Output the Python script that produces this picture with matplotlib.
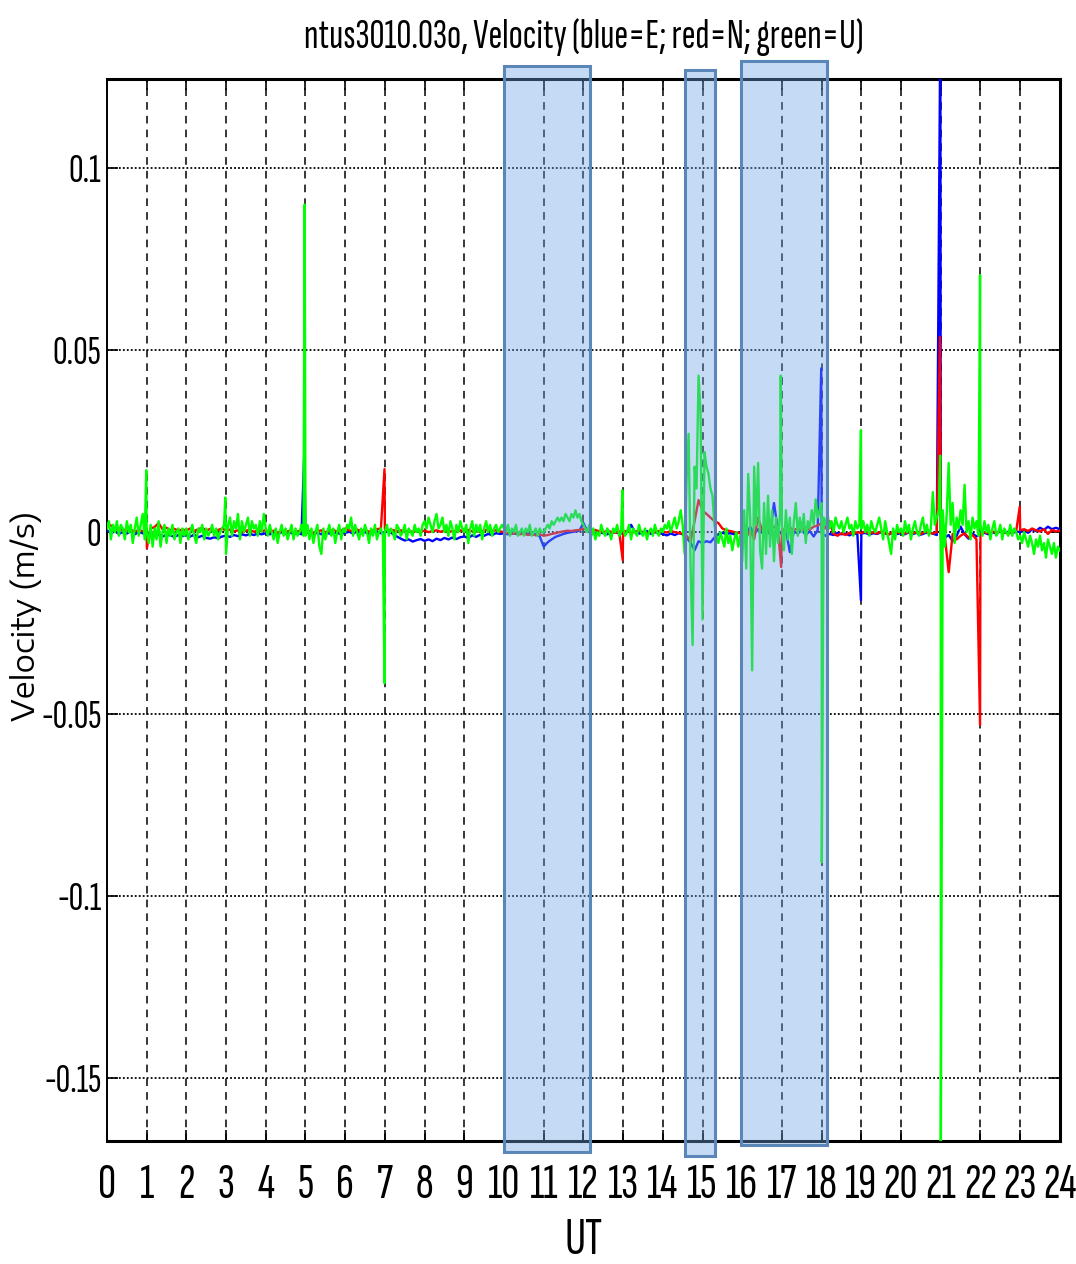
import numpy as np
import matplotlib
matplotlib.use("Agg")
from matplotlib import pyplot as plt
from matplotlib.patches import Rectangle

# velocities in mm/s, blue/red every 0.1 h, green every 0.05 h
east_mm = [
    0.5, -0.3, 0.2, -0.5, 0, -0.4, 0.3, -0.6, 0, -0.3,
    -0.8, -0.4, -1, -0.6, -1.2, -0.7, -0.9, -1.3, -0.8, -1.1,
    -0.9, -1.2, -0.7, -1.4, -1, -1.6, -1.8, -1.4, -1.7, -1.2,
    -1, -1.3, -0.8, -1.1, -0.6, -0.9, -0.5, -0.8, -0.4, -0.6,
    -0.3, -0.6, -0.2, -0.5, 0, -0.4, -0.1, -0.5, -0.2, -0.6,
    -0.3, 0, -0.5, -0.2, -0.6, -0.1, -0.4, 0, -0.3, -0.5,
    -0.2, 0.1, -0.4, 0.2, -0.3, 0, -0.5, -0.1, 0.2, -0.3,
    0, 0.3, -0.5, -1.2, -1.8, -2.3, -2.0, -2.6, -2.2, -1.9,
    -2.4, -2.0, -2.5, -1.8, -2.2, -1.6, -2.0, -1.5, -1.9, -1.4,
    -1.2, -1.6, -0.9, -1.3, -0.7, -1.0, -0.5, -0.8, -0.3, -0.5,
    -0.3, -0.6, -0.2, -0.5, 0, -0.4, -0.3, -0.8, -0.5, -1.2,
    -4, -2.8, -2, -1.3, -0.9, -0.5, -0.2, 0, 0.2, 0.4,
    2.5, 0.3, -0.2, -0.5, 0, -0.3, -0.6, -0.2, 0, -0.4,
    -0.3, 0.2, 2.0, 0, -0.4, -0.2, 0.3, -0.5, 0, -0.3,
    -0.5, -0.9, -0.4, -0.8, -0.3, -0.6, -1.5, -3, -5, -2.5,
    -3, -2.5, -2.8, -1.5, -0.6, -0.2, -0.5, -0.3, -0.6, -0.2,
    0, -1, 1.5, -0.5, 0.8, -0.2, 1, -0.6, 8, 0.5,
    -0.5, 0.4, -5.5, 0.2, -0.4, 0.6, -0.8, 0.3, -1.2, 0.5,
    -0.3, -1, -0.5, -0.8, -0.2, -0.6, -0.4, -0.9, -0.3, -0.6,
    -0.4, -0.2, -0.7, -0.3, -0.5, 0, -0.4, -0.6, -0.2, -0.5,
    -0.3, -0.6, 0, -0.5, -0.2, -0.7, -0.3, 0, -0.4, -0.8,
    -0.5, -1.5, -0.8, -2.5, -1, 1.5, -0.6, -1.8, -0.4, -1.2,
    -0.5, -0.2, -0.6, 0, -0.4, 0.3, -0.2, 0.1, -0.3, 0.2,
    0, 0.5, -0.2, 0.8, 0.3, 1.2, 0.6, 1.5, 0.8, 1.2,
    0.8,
]
east_spike_t = [4.97, 17.99, 18.99, 20.99]
east_spike_mm = [22, 45, -18.7, 140]

north_mm = [
    2.5, 1.8, 1, 0.5, 0.8, 0.3, 0.6, 0.2, 0.5, 0.3,
    0.6, 1, 1.4, 2.5, 0.8, 1.2, 0.5, 0.9, 0.4, 0.7,
    0.5, 1, 0.3, 0.8, 1.2, 0.4, 0.9, 0.2, 0.6, 1,
    0.4, 0.7, 0.2, 0.5, 0, 0.4, 0.6, 0.1, 0.5, 0.3,
    0.5, 0.1, 0.4, -0.2, 0.3, 0, 0.4, -0.1, 0.2, 0.5,
    0, 0.3, -0.3, 0.2, 0.5, 0, 0.3, 0.6, 0.1, 0.4,
    1, 0.5, 0.2, 0.7, 0.3, 0.6, 0.1, 0.5, 0.8, 1,
    0.8, 0.4, 0.6, 0.2, 0.5, 0.1, 0.4, 0, 0.3, 0.2,
    0.4, 0, 0.3, 0.5, 0.1, 0.4, 0, 0.3, 0.2, 0.5,
    0.3, 0.6, 0.2, 0.5, 0.1, 0.4, 0.8, 0.3, 0.5, 0.2,
    0, -0.3, -0.5, -0.2, -0.6, -0.4, -0.8, -0.5, -0.9, -0.6,
    -1, -0.8, -0.5, -0.3, 0, 0.2, 0.4, 0.3, 0.5, 0.6,
    1, 0.5, 0.3, 0.6, 0.2, 0, 0.3, 0.1, -0.2, 0.2,
    0, 0.3, -0.2, 0.1, 0.4, 0, -0.3, 0.2, 0, 0.3,
    0.2, -0.1, 0.3, 0, -0.2, -0.5, -1, -2.5, 3, 8.8,
    6, 5, 4, 3, 2.5, 1, 0.5, 0.3, 0, -0.2,
    -0.5, -1.5, 0.5, -2, 4, 0.5, 1, 0.3, 1.5, 0.8,
    0.8, 0.5, 1.2, 0.6, 1, 0.4, 1.3, 0.7, 1.5, 1.8,
    2.5, 1, 3, -0.5, -1, -0.3, -0.8, -0.2, -0.6, 0,
    -0.3, 0.2, -0.5, 0, -0.4, 0.2, -0.3, -0.6, 0, -0.2,
    0, -0.4, 0.2, -0.3, 0, -0.5, 0.1, -0.2, -0.4, 0,
    -2, -1, -11, -0.5, -2, -1, -0.3, -1.5, -0.8, -2,
    -0.5, 0, -0.3, 0.2, -0.2, 0.3, 0, -0.4, 0.1, 0.3,
    0.5, 0.8, 0.3, 1, 0.5, 0.2, 0.8, -0.5, 0.6, 0.2,
    0.4,
]
north_spike_t = [1.005, 6.99, 12.99, 16.98, 20.98, 21.99, 22.99]
north_spike_mm = [-4.4, 17.3, -7.7, -9.6, 53.6, -53, 7]

up_mm = [
    1, 3, -2, 2, 0, 3, -1, 2, 1, -2, 3, 0, 2, -3, 1, 4, -1, 2, 5, -2,
    0, -3, 2, -4, 1, -2, 3, -4, 0, 2, -3, 1, -1, 2, -2, 0, 1, -3, 1, -1,
    1, -2, 0, 2, -1, -3, 1, 0, 2, -2, 1, -1, 0, 2, -1, 1, -2, 0, 1, 2,
    -6, 2, 4, -1, 3, 1, 5, -2, 3, 0, 2, 4, -1, 3, 1, 2, -1, 3, 0, 5,
    1, -1, 2, 0, -2, 1, -3, 0, 2, -1, 1, -2, 0, 2, -2, 1, -1, 0, 2, -1,
    -1, 2, -2, 1, -3, 0, 2, -4, -6, 1, -2, 0, 2, -1, 1, -3, 0, 2, -2, 1,
    0, 2, 1, 4, -1, 2, 0, -2, 1, -1, 2, 0, -3, 1, -1, 2, -2, 0, 1, -1,
    0, 2, -1, 1, 0, -2, 2, 1, -1, 0, 2, -2, 1, 0, -1, 2, 0, 1, -1, 2,
    3, 1, 4, 2, 0, 3, 5, 1, 2, 4, 0, 2, -1, 3, 1, -2, 2, 0, 3, 1,
    0, 2, -3, 1, 3, -1, 2, 0, 2, -2, 1, 3, 0, 2, -1, 1, 2, 0, 1, 2,
    1, 0, 2, -1, 1, 0, 2, -1, 0, 1, -1, 1, 0, 2, -1, 0, 1, -1, 1, 0,
    0, 1, 2, 1, 3, 2, 3, 4, 3, 4, 3, 5, 4, 3, 5, 4, 6, 4, 5, 3,
    2, 1, 0, 2, -1, 1, -2, 0, -1, 2, 0, -1, 1, 0, -2, 1, 0, 2, -1, 0,
    1, -1, 0, 2, -2, 1, 0, -1, 2, 0, -1, 1, -2, 0, 1, -1, 2, 0, -1, 1,
    0, 2, 1, 3, 0, 2, 4, 1, 3, 6, 2, -6, 15, 27, -10, -31, 18, 12, 43, 33,
    -24, 22, 18, 16, 12, 10, 2, -1, -3, 0, -2, -4, 1, -3, -1, -5, -2, 0, -4, -1,
    -8, 6, -10, 16, 4, -38, 18, 2, 19, -5, -10, 8, -6, 10, -4, 6, -8, 4, -3, 5,
    2, -5, 6, -2, 4, -6, 3, 8, -1, 4, 0, 5, -3, 3, 1, 6, 2, 9, 4, 6,
    8, 4, 2, 5, 1, 3, 0, 4, 2, 1, 3, 0, 2, 4, 1, 2, -1, 3, 1, 2,
    1, 3, 0, 2, -1, 3, 1, 0, 2, 4, 1, -2, 3, 0, -3, -6, 1, -2, 2, 0,
    1, -1, 3, 0, 2, -2, 1, 3, 0, -1, 2, 4, 0, 2, -1, 1, 11, 2, 4, 6,
    -9, 6, -4, 5, 19, 2, 8, -3, 4, 1, 6, 2, 13, 0, 3, -2, 4, 1, 3, -1,
    2, -1, 3, 0, 2, -2, 1, 3, -1, 0, 2, -2, 1, 0, -1, 2, -1, 1, 0, -2,
    -1, -3, 0, -2, -4, -1, -3, -6, -2, -4, -1, -5, -3, -7, -2, -4, -6, -3, -7, -4,
    -5,
]
up_spike_t = [0.99, 2.98, 4.98, 6.99, 12.98, 16.97, 18.005, 18.99, 20.985, 21.002, 21.99]
up_spike_mm = [17, 9.5, 90, -41.5, 11.5, 43, -90.7, 28, 21, -170, 70.6]

# highlighted UT windows (start, end) in hours
boxes = [(10.0, 12.16), (14.56, 15.31), (15.97, 18.13)]
box_tops = [0.128, 0.127, 0.1295]
box_bottoms = [-0.1703, -0.1715, -0.1685]

yticks = [-0.15, -0.1, -0.05, 0, 0.05, 0.1]
ylabels = ["-0.15", "-0.1", "-0.05", "0", "0.05", "0.1"]

narrow = ["Sofia Sans Extra Condensed", "Pathway Gothic One", "Roboto Condensed", "DejaVu Sans"]


def series(vals, spike_t, spike_v):
    t = np.concatenate([np.linspace(0, 24, len(vals)), spike_t])
    v = np.concatenate([vals, spike_v])
    order = np.argsort(t, kind="stable")
    return t[order], v[order] / 1000.0


fig = plt.figure(figsize=(10.76, 12.64), dpi=100)
ax = fig.add_axes([0.0994, 0.0973, 0.8856, 0.8402])

for vals, st, sv, col in [(east_mm, east_spike_t, east_spike_mm, "#0000ff"),
                          (north_mm, north_spike_t, north_spike_mm, "#ff0000"),
                          (up_mm, up_spike_t, up_spike_mm, "#00ff00")]:
    t, v = series(vals, st, sv)
    ax.plot(t, v, color=col, lw=1.7, zorder=3)

ax.set_xlim(0, 24)
ax.set_ylim(-0.1673, 0.1245)
ax.set_xticks(range(0, 25))
ax.set_yticks(yticks)
ax.set_yticklabels(ylabels)

for x in range(1, 24):
    ax.axvline(x, color="black", lw=1.1, ls=(0, (5, 4)), zorder=1)
for y in yticks:
    ax.axhline(y, color="black", lw=1.3, ls=(0, (1, 1.2)), zorder=1)

ax.tick_params(axis="both", direction="in", length=8, width=1.2, top=True, right=True)
ax.tick_params(axis="x", pad=16)
ax.tick_params(axis="y", pad=4)
for s in ["bottom", "top", "right"]:
    ax.spines[s].set_linewidth(2.2)
ax.spines["left"].set_linewidth(1.4)

for lab in ax.get_xticklabels():
    lab.set_family(narrow)
    lab.set_fontsize(36)
for lab in ax.get_yticklabels():
    lab.set_family(narrow)
    lab.set_fontsize(29)

for (x0, x1), y1, y0 in zip(boxes, box_tops, box_bottoms):
    ax.add_patch(Rectangle((x0, y0), x1 - x0, y1 - y0, facecolor="#70a7e6",
                           alpha=0.4, edgecolor="none", clip_on=False, zorder=5))
    ax.add_patch(Rectangle((x0, y0), x1 - x0, y1 - y0, facecolor="none",
                           edgecolor="#5b87b8", lw=2.2, clip_on=False, zorder=6))

ax.set_title("ntus3010.03o, Velocity (blue=E; red=N; green=U)",
             family=narrow, fontsize=30, pad=22)
ax.set_xlabel("UT", family=narrow, fontsize=38, va="center")
ax.xaxis.set_label_coords(0.5, -0.094)
ax.set_ylabel("Velocity (m/s)", family=["Encode Sans Expanded", "DejaVu Sans"],
              fontsize=22, va="center")
ax.yaxis.set_label_coords(-0.085, 0.494)

plt.savefig("out.png", dpi=100)
